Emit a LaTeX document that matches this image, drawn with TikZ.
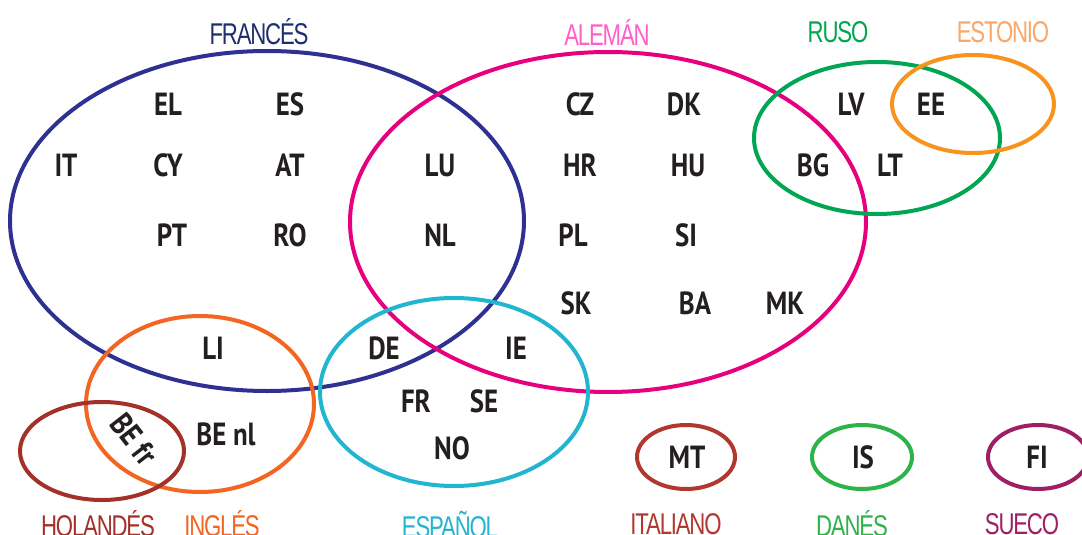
\documentclass[tikz,border=0pt]{standalone}
\usepackage{fontspec}
\newfontfamily\codefont{PT Sans}[FakeStretch=0.84]
\newfontfamily\ttlfont{Liberation Sans}[FakeStretch=0.74,LetterSpace=-4]
\definecolor{cFra}{HTML}{2E3192}
\definecolor{cFraT}{HTML}{1D2F6F}
\definecolor{cAle}{HTML}{E6007E}
\definecolor{cAleT}{HTML}{FF5FC8}
\definecolor{cRus}{HTML}{00A651}
\definecolor{cEst}{HTML}{F7941D}
\definecolor{cEstT}{HTML}{F9A86A}
\definecolor{cIng}{HTML}{F26522}
\definecolor{cHol}{HTML}{A3312A}
\definecolor{cEsp}{HTML}{22B5D0}
\definecolor{cIta}{HTML}{B0382C}
\definecolor{cDan}{HTML}{2DB34A}
\definecolor{cSue}{HTML}{9E1F63}
\definecolor{cTxt}{HTML}{231F20}
\tikzset{
  ring/.style={draw=#1, line width=4pt},
  code/.style={inner sep=0pt, text=cTxt, font=\codefont\bfseries\fontsize{32}{32}\selectfont},
  lang/.style={inner sep=0pt, text=#1, font=\ttlfont\fontsize{30}{30}\selectfont}
}
\begin{document}
\begin{tikzpicture}[x=1pt,y=-1pt]
  \useasboundingbox[fill=white] (0,0) rectangle (1082,535);

  % language sets
  \draw[ring=cFra] (267,221) ellipse [x radius=257pt, y radius=170pt];
  \draw[ring=cAle] (608,222) ellipse [x radius=258pt, y radius=170pt];
  \draw[ring=cRus] (877,138) ellipse [x radius=123pt, y radius=76pt];
  \draw[ring=cEst] (973,104) ellipse [x radius=81pt, y radius=49pt];
  \draw[ring=cIng] (200,404) ellipse [x radius=114pt, y radius=88pt];
  \draw[ring=cHol] (102,451) ellipse [x radius=82pt, y radius=49pt];
  \draw[ring=cEsp] (454,392) ellipse [x radius=134pt, y radius=94pt];
  \draw[ring=cIta] (686,457) ellipse [x radius=49pt, y radius=32pt];
  \draw[ring=cDan] (862,457) ellipse [x radius=50pt, y radius=32pt];
  \draw[ring=cSue] (1038,457) ellipse [x radius=50pt, y radius=32pt];

  % language names
  \node[lang=cFraT] (tFra) at (259,32) {FRANCÉS};
  \node[lang=cAleT] (tAle) at (607,32) {ALEMÁN};
  \node[lang=cRus]  (tRus) at (838,32) {RUSO};
  \node[lang=cEstT] (tEst) at (1003,32) {ESTONIO};
  \node[lang=cHol]  (tHol) at (98,524) {HOLANDÉS};
  \node[lang=cIng]  (tIng) at (222,524) {INGLÉS};
  \node[lang=cEsp]  (tEsp) at (450,524) {ESPAÑOL};
  \node[lang=cIta]  (tIta) at (676,524) {ITALIANO};
  \node[lang=cDan]  (tDan) at (852,524) {DANÉS};
  \node[lang=cSue]  (tSue) at (1022,524) {SUECO};

  % country codes
  \node[code] (EL) at (168,104) {EL};
  \node[code] (ES) at (290,104) {ES};
  \node[code] (IT) at (66,165) {IT};
  \node[code] (CY) at (168,165) {CY};
  \node[code] (AT) at (290,165) {AT};
  \node[code] (LU) at (440,165) {LU};
  \node[code] (PT) at (172,235) {PT};
  \node[code] (RO) at (290,235) {RO};
  \node[code] (NL) at (440,235) {NL};
  \node[code] (CZ) at (580,104) {CZ};
  \node[code] (DK) at (684,104) {DK};
  \node[code] (LV) at (851,104) {LV};
  \node[code] (EE) at (931,104) {EE};
  \node[code] (HR) at (580,165) {HR};
  \node[code] (HU) at (688,165) {HU};
  \node[code] (BG) at (813,165) {BG};
  \node[code] (LT) at (890,165) {LT};
  \node[code] (PL) at (573,235) {PL};
  \node[code] (SI) at (686,235) {SI};
  \node[code] (SK) at (576,303) {SK};
  \node[code] (BA) at (695,303) {BA};
  \node[code] (MK) at (785,303) {MK};
  \node[code] (LI) at (213,348) {LI};
  \node[code] (DE) at (384,348) {DE};
  \node[code] (IE) at (516,348) {IE};
  \node[code] (FR) at (416,401) {FR};
  \node[code] (SE) at (484,401) {SE};
  \node[code] (NO) at (452,448) {NO};
  \node[code, rotate=-52] (BEfr) at (134,439) {BE fr};
  \node[code] (BEnl) at (226,434) {BE nl};
  \node[code] (MT) at (687,457) {MT};
  \node[code] (IS) at (863,457) {IS};
  \node[code] (FI) at (1037,457) {FI};
\end{tikzpicture}
\end{document}
